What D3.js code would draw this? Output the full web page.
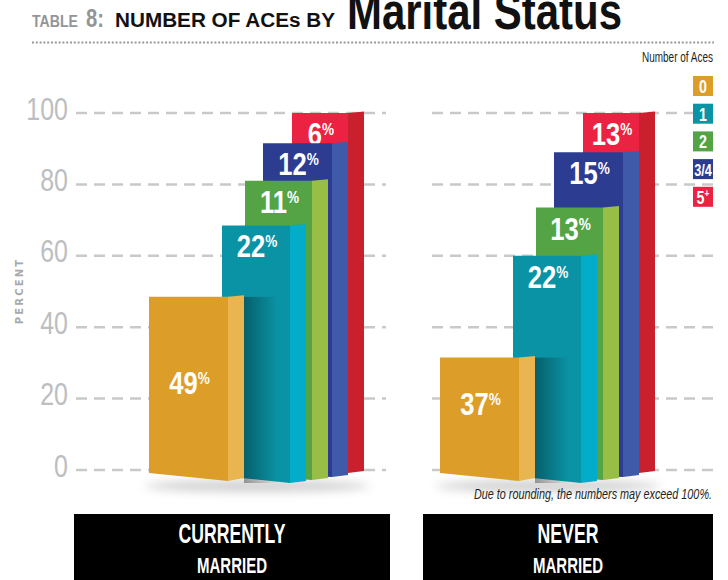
<!DOCTYPE html>
<html>
<head>
<meta charset="utf-8">
<script src="https://cdn.jsdelivr.net/npm/d3@7"></script>
<style>
body { margin: 0; background: #fff; }
svg { display: block; }
</style>
</head>
<body>
<svg id="main_svg"></svg>
<script>
const WIDTH = 728;
const HEIGHT = 580;
const SANS = '"Liberation Sans", Arial, sans-serif';

const groups = ['Currently Married', 'Never Married'];
const groupLines = [['CURRENTLY', 'MARRIED'], ['NEVER', 'MARRIED']];
const aceCategories = ['0', '1', '2', '3/4', '5+'];
const currentlyMarried = [49, 22, 11, 12, 6];
const neverMarried = [37, 22, 13, 15, 13];
// where each bar's top sits on the percent axis, as drawn in the original
const currentlyMarriedTops = [48.5, 68.5, 81, 91.5, 100];
const neverMarriedTops = [31.5, 60, 73.5, 89, 100];
const yTicks = [0, 20, 40, 60, 80, 100];
const footnote = 'Due to rounding, the numbers may exceed 100%.';

const svg = d3.select('#main_svg').attr('width', WIDTH).attr('height', HEIGHT);
const defs = svg.append('defs');

const y = d3.scaleLinear().domain([0, 100]).range([470, 113]);
const panelX = d3.scaleBand().domain(groups).range([149, 149 + 2 * 291]);

const frontColor = d3.scaleOrdinal().domain(aceCategories)
	.range(['#dc9e29', '#0a93a5', '#54a446', '#2c3c91', '#ec2242']);
const sideColor = d3.scaleOrdinal().domain(aceCategories)
	.range(['#e8b551', '#03adca', '#99be46', '#3f5aa8', '#ca1f2c']);

// bar footprint inside a panel (px from the panel's left edge)
const barLeft = d3.scaleOrdinal().domain(aceCategories).range([0, 73, 96, 114, 143]);
const barRight = d3.scaleOrdinal().domain(aceCategories).range([79, 141, 163, 183, 199]);
const SIDE = 16;
// perspective: how far the bottom edges drop below the zero line
const dropL = d3.scaleOrdinal().domain(aceCategories).range([3, 6, 5, 4, 2]);
const dropR = d3.scaleOrdinal().domain(aceCategories).range([11, 13, 10, 7, 3]);
const dropS = d3.scaleOrdinal().domain(aceCategories).range([8, 11, 8, 5, 1]);

const gridExtent = [[76, 386], [432, 713]];
const boxExtent = [[74, 390], [423, 713]];

// fixed-width text, squeezed to look like the condensed face of the original
const fitText = (parent, x, yPos, size, width, str, opts = {}) => {
	const t = parent.append('text')
		.attr('x', x).attr('y', yPos)
		.attr('font-family', SANS)
		.attr('font-size', size)
		.attr('font-weight', opts.weight || 'normal')
		.attr('font-style', opts.style || 'normal')
		.attr('text-anchor', opts.anchor || 'start')
		.attr('fill', opts.fill || '#111')
		.attr('textLength', width)
		.attr('lengthAdjust', 'spacingAndGlyphs')
		.text(str);
	return t;
};

// ---------- title ----------
const title = svg.append('g');
fitText(title, 32, 27, 17, 46, 'TABLE', { weight: 'bold', fill: '#939598' });
fitText(title, 86, 27, 26, 18, '8:', { weight: 'bold', fill: '#939598' });
fitText(title, 115, 27, 20, 220, 'NUMBER OF ACEs BY', { weight: 'bold', fill: '#111' });
fitText(title, 347, 29, 52, 275, 'Marital Status', { weight: 'bold', fill: '#111' });
title.append('line')
	.attr('x1', 32).attr('x2', 714).attr('y1', 42.5).attr('y2', 42.5)
	.attr('stroke', '#9a9a9a').attr('stroke-width', 2)
	.attr('stroke-dasharray', '2 1.8');

// ---------- gridlines & axis ----------
gridExtent.forEach(ext => {
	svg.append('g').selectAll('line')
		.data(yTicks)
		.enter()
		.append('line')
		.attr('x1', ext[0]).attr('x2', ext[1])
		.attr('y1', d => y(d)).attr('y2', d => y(d))
		.attr('stroke', '#c9c9c9').attr('stroke-width', 2.5)
		.attr('stroke-dasharray', '11 7');
});

const yAxis = svg.append('g')
	.attr('transform', 'translate(68,0)')
	.call(d3.axisLeft(y).tickValues(yTicks).tickSize(0).tickPadding(0));
yAxis.select('.domain').remove();
yAxis.selectAll('text')
	.attr('font-family', SANS)
	.attr('font-size', 32)
	.attr('fill', '#bcbec0')
	.attr('dy', 6)
	.attr('transform', 'scale(0.78,1)');

svg.append('text')
	.attr('transform', 'translate(23,291) rotate(-90)')
	.attr('text-anchor', 'middle')
	.attr('font-family', '"DejaVu Sans", sans-serif').attr('font-weight', 'bold')
	.attr('font-size', 10).attr('letter-spacing', 2.2)
	.attr('fill', '#a7a9ac')
	.text('PERCENT');

// ---------- bars ----------
const blur = defs.append('filter').attr('id', 'blur')
	.attr('x', '-20%').attr('y', '-200%').attr('width', '140%').attr('height', '500%');
blur.append('feGaussianBlur').attr('stdDeviation', 5);

const castShadow = defs.append('linearGradient').attr('id', 'castShadow');
castShadow.append('stop').attr('offset', 0).attr('stop-color', '#000').attr('stop-opacity', 0.35);
castShadow.append('stop').attr('offset', 1).attr('stop-color', '#000').attr('stop-opacity', 0);

const panelValues = [currentlyMarried, neverMarried];
const panelTops = [currentlyMarriedTops, neverMarriedTops];

groups.forEach((g, gi) => {
	const x0 = panelX(g);
	const panel = svg.append('g').attr('class', 'panel');
	const bars = aceCategories.map((c, i) => ({ cat: c, value: panelValues[gi][i], top: panelTops[gi][i], index: i }));

	panel.append('ellipse')
		.attr('cx', x0 + 108).attr('cy', 486)
		.attr('rx', 112).attr('ry', 6)
		.attr('fill', '#9a9a9a').attr('opacity', 0.45)
		.attr('filter', 'url(#blur)');

	const bar = panel.selectAll('.bar')
		.data(bars.slice().reverse())
		.enter()
		.append('g')
		.attr('class', 'bar');

	bar.append('polygon')
		.attr('fill', d => frontColor(d.cat))
		.attr('points', d => {
			const xl = x0 + barLeft(d.cat), xr = x0 + barRight(d.cat), yt = y(d.top), y0 = y(0);
			return [[xl, yt], [xr, yt], [xr, y0 + dropR(d.cat)], [xl, y0 + dropL(d.cat)]].join(' ');
		});

	bar.append('polygon')
		.attr('fill', d => sideColor(d.cat))
		.attr('points', d => {
			const xr = x0 + barRight(d.cat), yt = y(d.top), y0 = y(0);
			return [[xr, yt], [xr + SIDE, yt - 1.5], [xr + SIDE, y0 + dropS(d.cat)], [xr, y0 + dropR(d.cat)]].join(' ');
		});

	// shadow the orange bar throws on the teal one
	bar.filter(d => d.index === 1)
		.append('rect')
		.attr('x', x0 + barRight(aceCategories[0]) + SIDE)
		.attr('width', 34)
		.attr('y', y(bars[0].top))
		.attr('height', d => y(0) + dropR(d.cat) - y(bars[0].top))
		.attr('fill', 'url(#castShadow)');

	const label = bar.append('g')
		.attr('transform', d => {
			const cx = x0 + (barLeft(d.cat) + barRight(d.cat)) / 2 + 1;
			const by = d.index === 0 ? y(d.value / 2) + 11 : y(d.top) + 32;
			return `translate(${cx},${by}) scale(0.8,1)`;
		})
		.append('text')
		.attr('text-anchor', 'middle')
		.attr('font-family', SANS).attr('font-weight', 'bold')
		.attr('fill', '#fff');
	label.append('tspan').attr('font-size', 32).text(d => d.value);
	label.append('tspan').attr('font-size', 17).attr('dy', -10).text('%');

	// category box under the panel
	const bx = boxExtent[gi];
	const cx = (bx[0] + bx[1]) / 2;
	panel.append('rect')
		.attr('x', bx[0]).attr('width', bx[1] - bx[0])
		.attr('y', 514).attr('height', HEIGHT - 514)
		.attr('fill', '#000');
	fitText(panel, cx, 543, 28, gi === 0 ? 107 : 61, groupLines[gi][0],
		{ weight: 'bold', anchor: 'middle', fill: '#fff' });
	fitText(panel, cx, 573, 22, 70, groupLines[gi][1],
		{ weight: 'bold', anchor: 'middle', fill: '#fff' });
});

fitText(svg, 712, 499, 14, 238, footnote, { style: 'italic', anchor: 'end', fill: '#231f20' });

// ---------- legend ----------
const legend = svg.append('g').attr('transform', 'translate(693,76)');
fitText(legend, 20, -14, 14, 71, 'Number of Aces', { anchor: 'end', fill: '#231f20' });

const item = legend.selectAll('.item')
	.data(aceCategories)
	.enter()
	.append('g')
	.attr('class', 'item')
	.attr('transform', (d, i) => `translate(0,${i * 27.7})`);
item.append('rect')
	.attr('width', 20).attr('height', 20)
	.attr('fill', d => frontColor(d));
const legendText = item.append('g')
	.attr('transform', 'translate(10,17) scale(0.75,1)')
	.append('text')
	.attr('text-anchor', 'middle')
	.attr('font-family', SANS).attr('font-weight', 'bold')
	.attr('font-size', d => d === '3/4' ? 17 : 19)
	.attr('fill', '#fff');
legendText.append('tspan').text(d => d.replace('+', ''));
legendText.filter(d => d.endsWith('+'))
	.append('tspan').attr('font-size', 11).attr('dy', -7).text('+');
</script>
</body>
</html>
